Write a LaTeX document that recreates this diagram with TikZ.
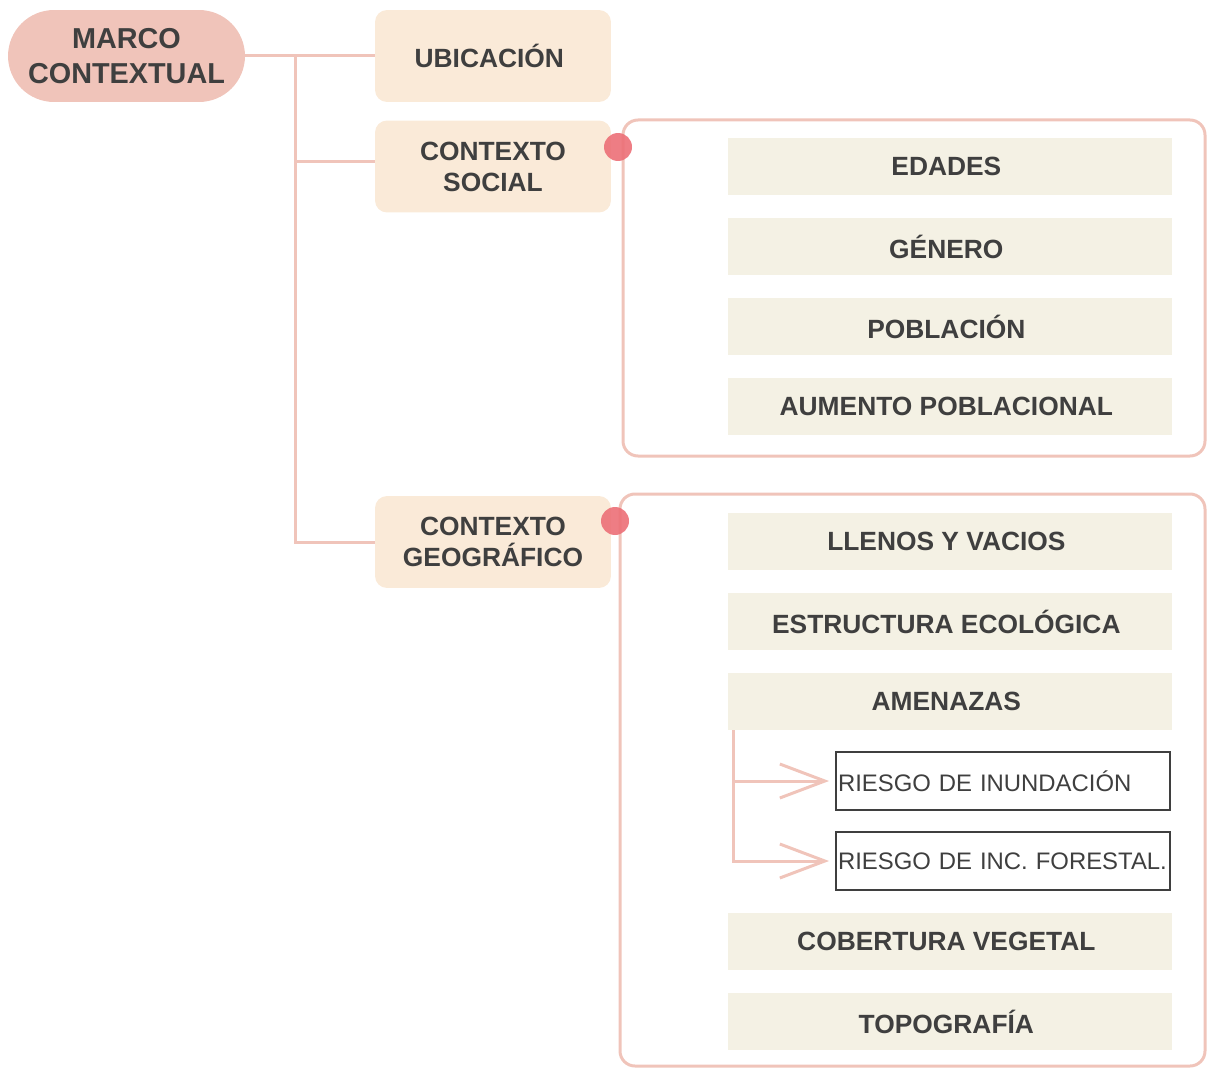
\documentclass[tikz,border=0pt]{standalone}
\usepackage{fontspec}
\setmainfont{Liberation Sans}
\usetikzlibrary{arrows.meta}
\hyphenpenalty=10000

\definecolor{marcopink}{HTML}{F0C4BA}
\definecolor{temapeach}{HTML}{FAEAD8}
\definecolor{itemcream}{HTML}{F4F1E4}
\definecolor{dotred}{HTML}{EC6F77}
\definecolor{textgrey}{HTML}{3F3F3F}

\begin{document}
\begin{tikzpicture}[x=0.02cm, y=-0.02cm,
        marco/.style={fill=marcopink, rounded corners=0.92cm, minimum width=4.74cm, minimum height=1.84cm,
            align=center, text=textgrey, font=\fontsize{16.4}{20}\selectfont\bfseries},
        tema/.style={fill=temapeach, rounded corners=0.24cm, minimum width=4.72cm, minimum height=1.84cm,
            align=center, text=textgrey, font=\fontsize{15}{17.6}\selectfont\bfseries},
        item/.style={fill=itemcream, minimum width=8.88cm, minimum height=1.14cm,
            align=center, text=textgrey, font=\fontsize{15}{18}\selectfont\bfseries},
        riesgo/.style={draw=textgrey, line width=1.1pt, text width=6.6cm, inner xsep=0.04cm, minimum height=1.16cm,
            align=left, text=textgrey, font=\fontsize{13.6}{16}\selectfont},
        punto/.style={circle, fill=dotred, fill opacity=0.9, minimum size=0.56cm, inner sep=0pt},
        marcoframe/.style={draw=marcopink, line width=0.06cm, rounded corners=0.3cm},
        link/.style={draw=marcopink, line width=0.06cm},
        flecha/.style={link, -{Straight Barb[length=0.9cm, width=0.68cm]}, shorten >=0.12cm}]
        \useasboundingbox (0,0) rectangle (1207,1068);

        % marcos de los grupos
        \draw[marcoframe] (623,120) rectangle (1205,456);
        \draw[marcoframe] (620,494) rectangle (1205,1066);

        \node[marco] (Marco) at (126.5,56) {
            MARCO\\CONTEXTUAL
        };
        \node[tema] (Ubicacion) at (493,56) {
            UBICACIÓN
        };
        \node[tema] (Social) at (493,166.5) {
            CONTEXTO\\SOCIAL
        };
        \node[tema] (Geografico) at (493,542) {
            CONTEXTO\\GEOGRÁFICO
        };

        \coordinate (Tronco) at (295,56);
        \draw[link] (Marco.east) -- (Ubicacion.west);
        \draw[link] (Tronco) |- ([yshift=0.1cm]Social.west);
        \draw[link] (Tronco) |- (Geografico.west);

        % contexto social
        \node[item] (Edades) at (950,166.5) {
            EDADES
        };
        \node[item] (Genero) at (950,246.5) {
            GÉNERO
        };
        \node[item] (Poblacion) at (950,326.5) {
            POBLACIÓN
        };
        \node[item] (Aumento) at (950,406.5) {
            AUMENTO POBLACIONAL
        };

        % contexto geografico
        \node[item] (Llenos) at (950,541.5) {
            LLENOS Y VACIOS
        };
        \node[item] (Estructura) at (950,621.5) {
            ESTRUCTURA ECOLÓGICA
        };
        \node[item] (Amenazas) at (950,701.5) {
            AMENAZAS
        };
        \node[riesgo] (Inundacion) at (1003,781) {
            RIESGO DE INUNDACIÓN
        };
        \node[riesgo] (Forestal) at (1003,861) {
            RIESGO DE INC. FORESTAL.
        };
        \node[item] (Cobertura) at (950,941.5) {
            COBERTURA VEGETAL
        };
        \node[item] (Topografia) at (950,1021.5) {
            TOPOGRAFÍA
        };

        \draw[flecha] ([xshift=0.12cm]Amenazas.south west) |- (Inundacion.west);
        \draw[flecha] ([xshift=0.12cm]Amenazas.south west) |- (Forestal.west);

        \node[punto] (PuntoSocial) at (618,147) {};
        \node[punto] (PuntoGeo) at (615,521) {};
\end{tikzpicture}
\end{document}
